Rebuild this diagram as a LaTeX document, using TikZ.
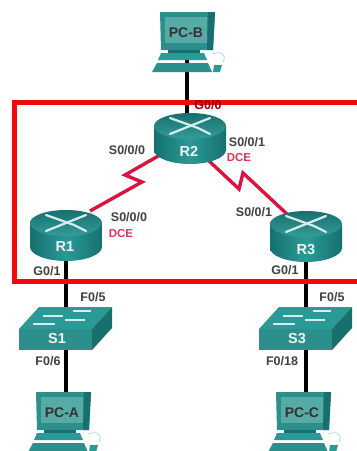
\documentclass[tikz,border=0pt]{standalone}
\usepackage{fontspec}
\setmainfont{Liberation Sans}
\definecolor{teald}{HTML}{17706E}
\definecolor{tealm}{HTML}{2A9A96}
\definecolor{teall}{HTML}{56ABA7}
\definecolor{tealf}{HTML}{2C8F8C}
\definecolor{tealt}{HTML}{349C98}
\definecolor{lblgray}{HTML}{404040}
\definecolor{dcered}{HTML}{D8365A}
\definecolor{boxred}{HTML}{EE0A0F}
\definecolor{serialred}{HTML}{D81440}
\tikzset{
  port/.style={font=\bfseries\fontsize{12.5}{13}\selectfont,text=lblgray,inner sep=0pt},
  dce/.style={font=\bfseries\fontsize{11.5}{13}\selectfont,text=dcered,inner sep=0pt},
  devname/.style={font=\bfseries\fontsize{14.5}{16}\selectfont,text=white!92!teal,inner sep=0pt},
  pcname/.style={font=\bfseries\fontsize{14}{16}\selectfont,text=black!80,inner sep=0pt},
  eth/.style={draw=black,line width=3.3pt},
  serial/.style={draw=serialred,line width=3.4pt,line join=miter},
  box/.style={draw=boxred,line width=5pt},
}
% router: #1 centre x, #2 top y
\newcommand{\routerpic}[2]{%
  \begin{scope}[shift={(#1,#2)}]
    \shade[left color=teald,right color=teald,middle color=tealm]
      (-36,13) -- (-36,37) .. controls (-36,44.5) and (-20,51) .. (0,51)
      .. controls (20,51) and (36,44.5) .. (36,37) -- (36,13) -- cycle;
    \shade[top color=teald,bottom color=tealt] (0,13) ellipse[x radius=36,y radius=13];
    \draw[white!85!teal,line width=2.2pt,line cap=round]
      (-20,5) -- (-6,10) (8,15) -- (20,21) (-20,21) -- (20,5);
    \draw[white!85!teal,line width=2.2pt,line cap=round] (-6,10) -- (8,15);
  \end{scope}}
% switch: #1 left x, #2 top y
\newcommand{\switchpic}[2]{%
  \begin{scope}[shift={(#1,#2)}]
    \fill[tealm] (0,22) -- (20,0) -- (93,0) -- (73,22) -- cycle;
    \fill[tealf] (0,22) rectangle (73,43);
    \fill[teald] (73,22) -- (93,0) -- (93,21) -- (73,43) -- cycle;
    \draw[white!85!teal,line width=1.5pt] (24,9) -- (44,9) (54,4) -- (72,4) (14,17) -- (36,17) (46,13) -- (66,13);
  \end{scope}}
% PC: #1 monitor left x, #2 monitor top y
\newcommand{\pcpic}[2]{%
  \begin{scope}[shift={(#1,#2)}]
    \fill[tealf] (0,0) -- (55,0) -- (53,38) -- (1,38) -- cycle;
    \fill[teald] (48,0) -- (55,0) -- (53,38) -- (47,38) -- cycle;
    \fill[teall] (5,5) rectangle (47,31);
    \fill[teald] (8,38) rectangle (40,41);
    \fill[tealm] (1,41) -- (44,41) -- (47,48) -- (-2,48) -- cycle;
    \fill[tealf] (-3,51) -- (48,51) -- (52,60) -- (-8,60) -- cycle;
    \fill[tealm] (54,53) -- (62,53) -- (60,60) -- (53,60) -- cycle;
    \draw[white!70!teal,line width=.8pt] (52,42) .. controls (58,39) and (68,41) .. (63,50);
  \end{scope}}
\begin{document}
\begin{tikzpicture}[x=1pt,y=-1pt]
\useasboundingbox (0,0) rectangle (357,451);
\fill[white] (0,0) rectangle (357,451);
% named anchors of the devices
\coordinate (PCB) at (187,50);
\coordinate (R2t) at (187,125);
\coordinate (R1) at (66,240);
\coordinate (R3) at (306,240);
\coordinate (S1) at (66,330);
\coordinate (S3) at (306,330);
\coordinate (PCA) at (66,400);
\coordinate (PCC) at (306,400);
\coordinate (R1s) at (90,211);
\coordinate (R2w) at (160,155);
\coordinate (R2e) at (208,160);
\coordinate (R3s) at (288,215);
% connectors
\draw[eth] (PCB) -- (R2t);
\draw[eth] (R1) -- (S1);
\draw[eth] (R3) -- (S3);
\draw[eth] (S1) -- (PCA);
\draw[eth] (S3) -- (PCC);
\coordinate (z1a) at (142,182);
\coordinate (z1b) at (125,175);
\coordinate (z2a) at (239,189);
\coordinate (z2b) at (243,173);
\draw[serial] (R1s) -- (z1a) -- (z1b) -- (R2w);
\draw[serial] (R2e) -- (z2a) -- (z2b) -- (R3s);
% devices
\pcpic{160}{12}
\pcpic{36}{392}
\pcpic{276}{392}
\routerpic{190}{113}
\routerpic{66}{210}
\routerpic{306}{211}
\switchpic{19}{307}
\switchpic{259}{307}
% device names
\node[pcname] (nPCB) at (186,33) {PC-B};
\node[pcname] (nPCA) at (62,413) {PC-A};
\node[pcname] (nPCC) at (302,413) {PC-C};
\node[devname] (nR2) at (189,151) {R2};
\node[devname] (nR1) at (65,247) {R1};
\node[devname] (nR3) at (306,250) {R3};
\node[devname] (nS1) at (57,339) {S1};
\node[devname] (nS3) at (297,339) {S3};
% box
\draw[box] (361,102.5) -- (14,102.5) -- (14,281) -- (361,281);
% labels
\node[port,text=red!55!black] (l0) at (208,105) {G0/0};
\node[port] (l1) at (127,150) {S0/0/0};
\node[port] (l2) at (247,142) {S0/0/1};
\node[dce] (l3) at (239,158) {DCE};
\node[port] (l4) at (129,217) {S0/0/0};
\node[dce] (l5) at (121,234) {DCE};
\node[port] (l6) at (254,212) {S0/0/1};
\node[port] (l7) at (47,271) {G0/1};
\node[port] (l8) at (285,270) {G0/1};
\node[port] (l9) at (93,297) {F0/5};
\node[port] (l10) at (332,297) {F0/5};
\node[port] (l11) at (48,361) {F0/6};
\node[port] (l12) at (282,361) {F0/18};
\end{tikzpicture}
\end{document}
